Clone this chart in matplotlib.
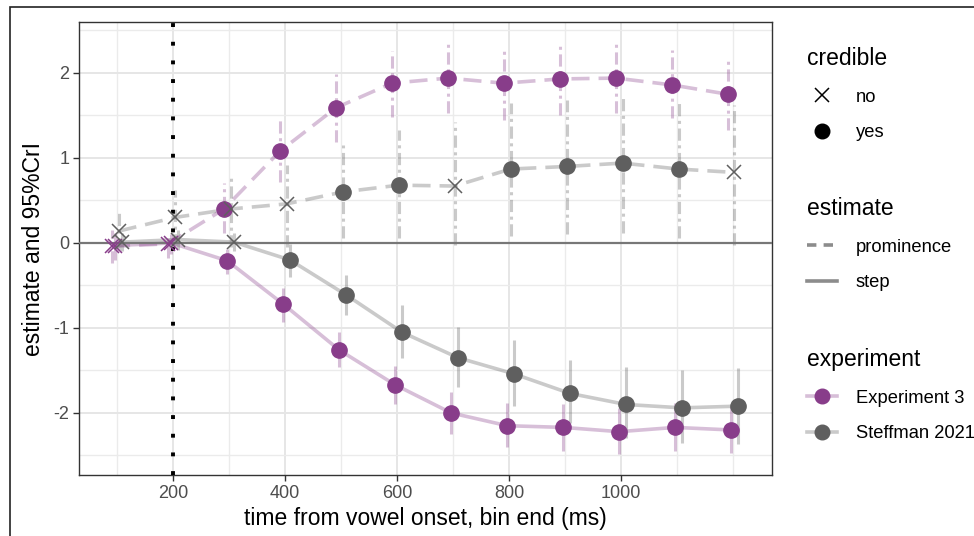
import numpy as np
import matplotlib
matplotlib.use('Agg')
import matplotlib.pyplot as plt
from matplotlib.lines import Line2D
from matplotlib.patches import Rectangle

plt.rcParams['font.family'] = ['Liberation Sans', 'DejaVu Sans']
plt.rcParams['axes.unicode_minus'] = False

# bin end (ms)
bins = np.array([100, 200, 300, 400, 500, 600, 700, 800, 900, 1000, 1100, 1200])

# Experiment 3
exp3_prom    = [-0.04, -0.01, 0.40, 1.08, 1.59, 1.88, 1.94, 1.88, 1.93, 1.94, 1.86, 1.75]
exp3_prom_lo = [-0.24, -0.18, 0.12, 0.72, 1.19, 1.48, 1.53, 1.45, 1.51, 1.53, 1.47, 1.33]
exp3_prom_hi = [0.15, 0.09, 0.70, 1.45, 1.99, 2.26, 2.35, 2.29, 2.33, 2.35, 2.27, 2.19]
exp3_step    = [-0.03, 0.00, -0.21, -0.72, -1.26, -1.67, -2.00, -2.15, -2.17, -2.22, -2.17, -2.20]
exp3_step_lo = [-0.20, -0.13, -0.36, -0.93, -1.46, -1.89, -2.25, -2.40, -2.45, -2.48, -2.45, -2.47]
exp3_step_hi = [0.12, 0.10, -0.07, -0.53, -1.05, -1.45, -1.75, -1.88, -1.89, -1.94, -1.88, -1.93]

# Steffman 2021
steff_prom    = [0.14, 0.30, 0.40, 0.46, 0.60, 0.68, 0.67, 0.87, 0.90, 0.94, 0.87, 0.83]
steff_prom_lo = [-0.08, -0.03, -0.05, -0.05, 0.06, 0.06, -0.02, 0.08, 0.10, 0.12, 0.06, -0.02]
steff_prom_hi = [0.39, 0.62, 0.76, 0.92, 1.15, 1.33, 1.42, 1.65, 1.68, 1.74, 1.66, 1.62]
steff_step    = [0.01, 0.04, 0.01, -0.20, -0.61, -1.05, -1.35, -1.54, -1.77, -1.90, -1.94, -1.92]
steff_step_lo = [-0.10, -0.08, -0.10, -0.40, -0.85, -1.35, -1.69, -1.92, -2.12, -2.29, -2.35, -2.36]
steff_step_hi = [0.12, 0.15, 0.12, -0.01, -0.38, -0.73, -0.99, -1.14, -1.38, -1.46, -1.49, -1.47]

purple = '#883D8A'
grey = '#5F5F5F'
dash_line = (0, (5, 2.5))
dash_bar = (0, (4, 1.5, 1, 1.5))

series = [
    (exp3_prom, exp3_prom_lo, exp3_prom_hi, purple, 'prominence', -9),
    (exp3_step, exp3_step_lo, exp3_step_hi, purple, 'step', -3),
    (steff_prom, steff_prom_lo, steff_prom_hi, grey, 'prominence', 3),
    (steff_step, steff_step_lo, steff_step_hi, grey, 'step', 9),
]

fig = plt.figure(figsize=(9.74, 5.36), dpi=100)
ax = fig.add_axes([79/974, 1-475/536, (772-79)/974, (475-22)/536])

for est, lo, hi, col, kind, off in series:
    est, lo, hi = np.array(est), np.array(lo), np.array(hi)
    xs = bins + off
    ls = dash_line if kind == 'prominence' else '-'
    ax.plot(xs, est, color=col, alpha=0.33, lw=2.6, ls=ls, zorder=2)
    ax.vlines(xs, lo, hi, color=col, alpha=0.33, lw=2.2,
              linestyles=dash_bar if kind == 'prominence' else 'solid', zorder=2)
    cred = (lo > 0) | (hi < 0)
    ax.plot(xs[cred], est[cred], 'o', color=col, ms=11, zorder=4)
    ax.plot(xs[~cred], est[~cred], 'x', color=col, ms=10, mew=1.1, zorder=4)

ax.axhline(0, color='#777777', lw=1.6, zorder=3)
ax.axvline(200, color='black', lw=2.8, ls=(0, (1, 3.8)), zorder=3)

ax.set_xlim(32, 1270)
ax.set_ylim(-2.73, 2.6)
ax.set_xticks([200, 400, 600, 800, 1000])
ax.set_xticks(np.arange(100, 1300, 100), minor=True)
ax.set_yticks([-2, -1, 0, 1, 2])
ax.set_yticks([-2.5, -1.5, -0.5, 0.5, 1.5, 2.5], minor=True)
ax.grid(which='major', color='#E6E6E6', lw=1.4, zorder=0)
ax.grid(which='minor', color='#EBEBEB', lw=1.0, zorder=0)
ax.set_axisbelow(True)
ax.tick_params(which='major', length=4, width=1, color='#333333',
               labelsize=13, labelcolor='#4D4D4D', pad=3)
ax.tick_params(which='minor', length=0)
for s in ax.spines.values():
    s.set_color('#333333')
    s.set_linewidth(1.0)

ax.set_xlabel('time from vowel onset, bin end (ms)', fontsize=16.5, labelpad=4)
ax.set_ylabel('estimate and 95%CrI', fontsize=16.5, labelpad=6)

# legends on the right
leg_kw = dict(loc='upper left', frameon=False, fontsize=13.2, title_fontsize=16.5,
              alignment='left', borderpad=0, borderaxespad=0,
              handlelength=1.65, handletextpad=1.0, labelspacing=1.02)

h_cred = [Line2D([], [], marker='x', color='black', ls='none', ms=10, mew=1.1),
          Line2D([], [], marker='o', color='black', ls='none', ms=10.5)]
fig.legend(h_cred, ['no', 'yes'], title='credible',
           bbox_to_anchor=(807/974, 1-47/536), **leg_kw)

h_est = [Line2D([], [], color='#8C8C8C', lw=2.6, ls=(0, (2.6, 2))),
         Line2D([], [], color='#8C8C8C', lw=2.6)]
fig.legend(h_est, ['prominence', 'step'], title='estimate',
           bbox_to_anchor=(807/974, 1-197/536), **leg_kw)

h_exp = [(Line2D([], [], color=c, alpha=0.33, lw=2.6),
          Line2D([], [], color=c, marker='o', ls='none', ms=10.5))
         for c in (purple, grey)]
fig.legend(h_exp, ['Experiment 3', 'Steffman 2021'], title='experiment',
           bbox_to_anchor=(807/974, 1-348/536), **leg_kw)

# outer frame
fig.patches.append(Rectangle((10/974, -0.1), 1.2, 1.1-7/536, transform=fig.transFigure,
                             fill=False, ec='#222222', lw=1.2))

fig.savefig('out.png', dpi=100)
